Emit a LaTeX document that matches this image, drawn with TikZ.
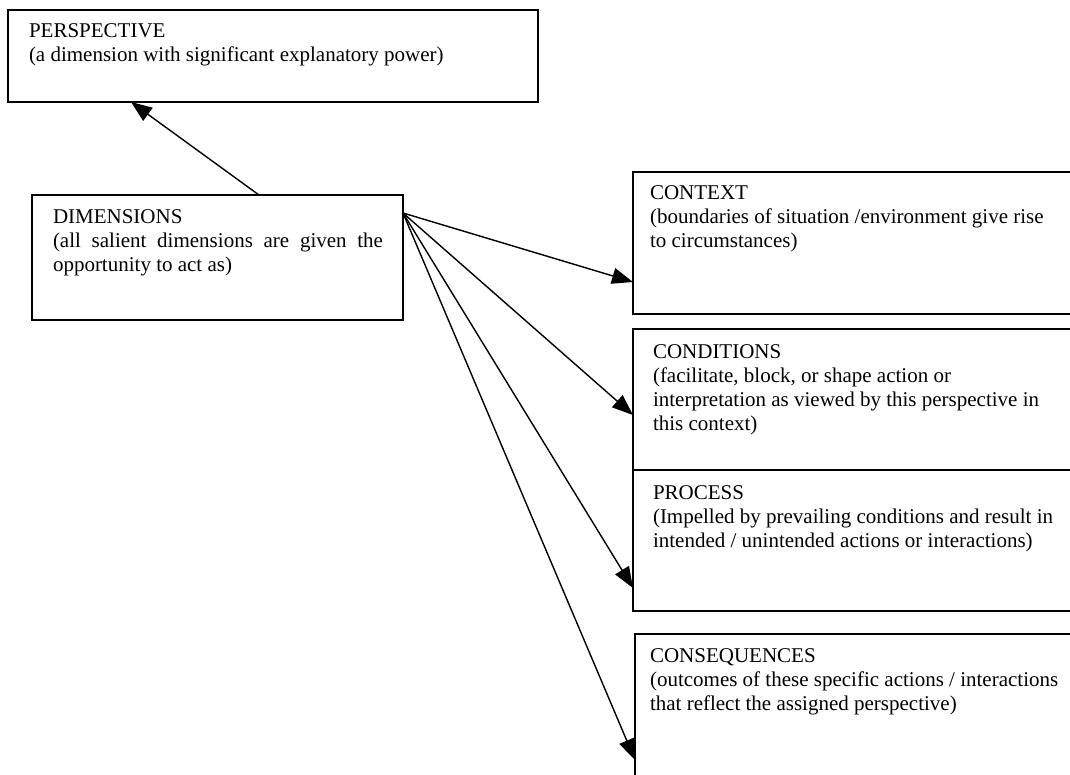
\documentclass[tikz,border=0pt]{standalone}
\usepackage{fontspec}
\setmainfont{Liberation Serif}
\usetikzlibrary{arrows.meta}

\begin{document}
\begin{tikzpicture}[x=1pt,y=1pt,
  box/.style={draw, line width=1.7pt, rectangle, anchor=north west,
    inner sep=0pt, outer sep=0pt},
  label/.style={anchor=north west, inner sep=0pt, outer sep=0pt,
    font=\fontsize{21}{23.8}\selectfont},
  link/.style={line width=1.4pt, -{Triangle[length=21pt,width=16pt]}}
]
\useasboundingbox (0,0) rectangle (1070,-774);
\clip (0,0) rectangle (1070,-774);

% boxes
\node[box, minimum width=530pt, minimum height=92pt]  (persp) at (8,-10) {};
\node[box, minimum width=371pt, minimum height=125pt] (dim)   at (32,-195) {};
\node[box, minimum width=460pt, minimum height=142pt] (ctx)   at (633,-172) {};
\node[box, minimum width=460pt, minimum height=141pt] (cond)  at (633,-329) {};
\node[box, minimum width=460pt, minimum height=141pt] (proc)  at (633,-470) {};
\node[box, minimum width=460pt, minimum height=170pt] (cons)  at (635,-634) {};

% texts
\node[label, align=left] (tpersp) at (29,-24)
  {PERSPECTIVE\\(a dimension with significant explanatory power)};
\node[label, text width=330pt, align=justify] (tdim) at (53,-210)
  {DIMENSIONS\\(all salient dimensions are given the\linebreak opportunity to act as)};
\node[label, align=left] (tctx) at (650,-186)
  {CONTEXT\\(boundaries of situation /environment give rise\\to circumstances)};
\node[label, align=left] (tcond) at (653,-345)
  {CONDITIONS\\(facilitate, block, or shape action or\\interpretation as viewed by this perspective in\\this context)};
\node[label, align=left] (tproc) at (653,-486)
  {PROCESS\\(Impelled by prevailing conditions and result in\\intended / unintended actions or interactions)};
\node[label, align=left] (tcons) at (650,-649)
  {CONSEQUENCES\\(outcomes of these specific actions / interactions\\that reflect the assigned perspective)};

% connectors
\draw[link] ([xshift=227pt]dim.north west) -- ([xshift=123pt]persp.south west);
\draw[link] ([yshift=-18pt]dim.north east) -- ([yshift=-110pt]ctx.north west);
\draw[link] ([yshift=-18pt]dim.north east) -- ([yshift=-86pt]cond.north west);
\draw[link] ([yshift=-18pt]dim.north east) -- ([yshift=-118pt]proc.north west);
\draw[link] ([yshift=-18pt]dim.north east) -- ([yshift=-126pt]cons.north west);
\end{tikzpicture}
\end{document}
